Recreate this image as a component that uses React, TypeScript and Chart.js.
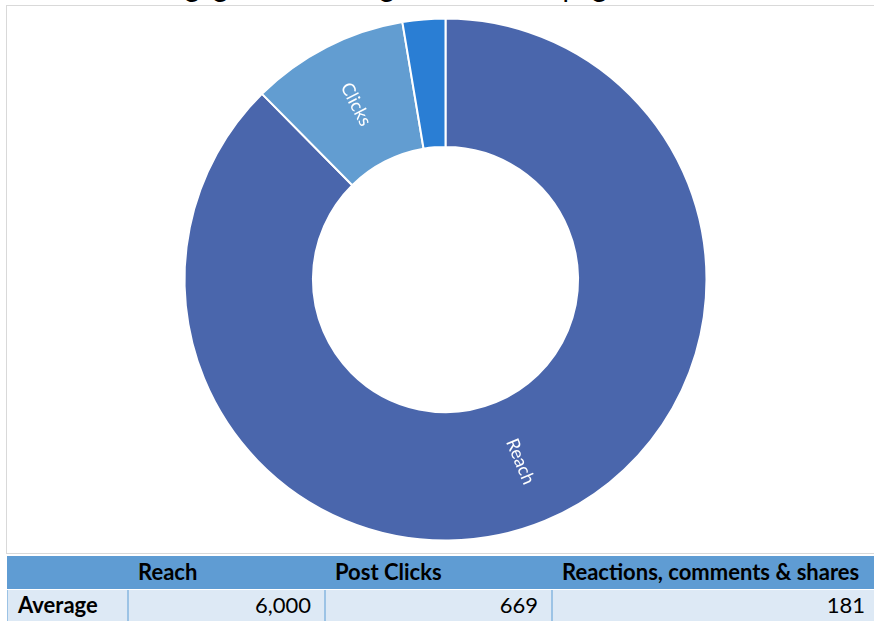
import React, { useEffect, useRef } from "react";
import { Chart, registerables } from "chart.js";

Chart.register(...registerables);

const categories = ["Reach", "Clicks", "Reactions"];
const values = [6000, 669, 181];
const sliceLabels = ["Reach", "Clicks", ""];
const sliceColors = ["#4a66ac", "#629dd1", "#2a7ed4"];
const tableHeaders = ["", "Reach", "Post Clicks", "Reactions, comments & shares"];
const tableRowLabel = "Average";
const titleText = "Total engagement through a Facebook page";

const labelPlugin = {
  id: "sliceLabels",
  afterDatasetsDraw(chart: any) {
    const ctx = chart.ctx;
    const meta = chart.getDatasetMeta(0);
    meta.data.forEach((arc: any, i: number) => {
      const label = sliceLabels[i];
      if (!label) return;
      const p = arc.getProps(["x", "y", "startAngle", "endAngle", "innerRadius", "outerRadius"], true);
      const a = (p.startAngle + p.endAngle) / 2;
      const r = (p.innerRadius + p.outerRadius) / 2;
      let rot = ((a % (2 * Math.PI)) + 2 * Math.PI) % (2 * Math.PI);
      if (rot > Math.PI / 2 && rot <= (3 * Math.PI) / 2) rot -= Math.PI;
      ctx.save();
      ctx.translate(p.x + Math.cos(a) * r, p.y + Math.sin(a) * r);
      ctx.rotate(rot);
      ctx.fillStyle = "#ffffff";
      ctx.font = "18px Lato";
      ctx.textAlign = "center";
      ctx.textBaseline = "middle";
      ctx.fillText(label, 0, 0);
      ctx.restore();
    });
  },
};

function DonutChart() {
  const ref = useRef<HTMLCanvasElement>(null);
  useEffect(() => {
    if (!ref.current) return;
    const chart = new Chart(ref.current, {
      type: "doughnut",
      data: {
        labels: categories,
        datasets: [
          {
            data: values,
            backgroundColor: sliceColors,
            borderColor: "#ffffff",
            borderWidth: 2,
          },
        ],
      },
      options: {
        responsive: false,
        animation: false,
        radius: 261,
        cutout: "50.8%",
        layout: { padding: 0 },
        plugins: {
          legend: { display: false },
          tooltip: { enabled: false },
          title: { display: false },
        },
      } as any,
      plugins: [labelPlugin],
    });
    return () => chart.destroy();
  }, []);
  return (
    <canvas
      ref={ref}
      width={877}
      height={547}
      style={{ position: "absolute", left: 7, top: 6, width: 877, height: 547 }}
    />
  );
}

export default function App() {
  const font = "Lato, 'Open Sans', sans-serif";
  const colEdges = [7, 127, 324, 551, 884];
  return (
    <div
      style={{
        position: "fixed",
        left: 0,
        top: 0,
        width: 874,
        height: 621,
        overflow: "hidden",
        background: "#ffffff",
        fontFamily: font,
      }}
    >
      <div style={{ position: "absolute", left: 0, top: 0, width: 874, height: 5, overflow: "hidden" }}>
        <div
          style={{
            position: "absolute",
            left: 88,
            top: -28,
            fontSize: 28,
            lineHeight: "28px",
            whiteSpace: "nowrap",
            color: "#000",
          }}
        >
          {titleText}
        </div>
      </div>
      <div
        style={{
          position: "absolute",
          left: 6,
          top: 5,
          width: 890,
          height: 549,
          border: "1px solid #d9d9d9",
          boxSizing: "border-box",
        }}
      />
      <DonutChart />
      {/* header row */}
      <div
        style={{
          position: "absolute",
          left: 7,
          top: 556,
          width: 880,
          height: 33,
          background: "#5f9cd3",
        }}
      />
      {tableHeaders.map((h, i) =>
        h ? (
          <div
            key={"h" + i}
            style={{
              position: "absolute",
              left: colEdges[i] + 11,
              top: 556,
              height: 33,
              lineHeight: "32px",
              fontSize: 22,
              fontWeight: 700,
              whiteSpace: "nowrap",
              color: "#000",
            }}
          >
            {h}
          </div>
        ) : null
      )}
      {/* data row */}
      {colEdges.slice(0, 4).map((x, i) => (
        <div
          key={"c" + i}
          style={{
            position: "absolute",
            left: x,
            top: 590,
            width: colEdges[i + 1] - x,
            height: 32,
            background: "#dde9f5",
            borderLeft: i === 0 ? "1px solid #9cc3e5" : "2px solid #9cc3e5",
            boxSizing: "border-box",
            lineHeight: "30px",
            fontSize: 22,
            fontWeight: i === 0 ? 700 : 400,
            textAlign: i === 0 ? "left" : "right",
            paddingLeft: i === 0 ? 10 : 0,
            paddingRight: i === 3 ? 19 : 13,
            whiteSpace: "nowrap",
            color: "#000",
          }}
        >
          {i === 0 ? tableRowLabel : values[i - 1].toLocaleString("en-US")}
        </div>
      ))}
    </div>
  );
}
